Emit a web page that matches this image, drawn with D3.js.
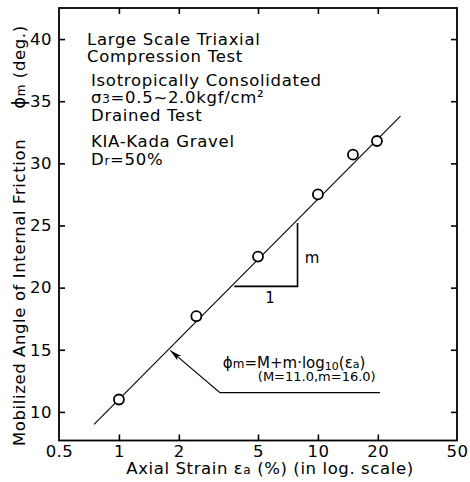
<!DOCTYPE html>
<html>
<head>
<meta charset="utf-8">
<script src="https://cdn.jsdelivr.net/npm/d3@7"></script>
<style>
  body { margin: 0; background: #fff; }
  text { font-family: "DejaVu Sans", sans-serif; fill: #000; }
</style>
</head>
<body>
<script>
// size of the page
var width = 470
var height = 482

// measured points (axial strain %, mobilized friction angle deg)
const strain = [1.0, 2.45, 5.0, 10.0, 15.0, 19.8]
const phi = [11.0, 17.7, 22.5, 27.5, 30.7, 31.8]

// fitted line phi = M + m*log10(ea), ends
const fitStrain = [0.75, 26]
const fitPhi = [9.0, 33.8]

// slope triangle and arrow of the annotation
const triStrain = [3.8, 7.9, 7.9]
const triPhi = [20.1, 20.1, 25.2]
const arrowStrain = [20.5, 3.22, 1.81]
const arrowPhi = [11.55, 11.55, 14.95]

// ticks
const xTicks = [0.5, 1, 2, 5, 10, 20, 50]
const xInner = [1, 2, 5, 10, 20]
const yTicks = [10, 15, 20, 25, 30, 35, 40]

// legend block text, [main, subscript, rest]
const infoLines = [
    ["Large Scale Triaxial", "", ""],
    ["Compression Test", "", ""],
    ["Isotropically Consolidated", "", ""],
    ["σ", "3", "=0.5~2.0kgf/cm²"],
    ["Drained Test", "", ""],
    ["KIA-Kada Gravel", "", ""],
    ["D", "r", "=50%"]
]
const infoY = [45, 62, 86, 103, 121, 147, 165]

const margin = { top: 8, right: 13, bottom: 41.5, left: 59 }
const innerWidth = width - margin.left - margin.right
const innerHeight = height - margin.top - margin.bottom

const svg = d3.select('body')
    .append('svg')
    .attr('width', width)
    .attr('height', height)

const xScale = d3.scaleLog()
    .domain([0.5, 50])
    .range([margin.left, margin.left + innerWidth])

const yScale = d3.scaleLinear()
    .domain([7.7, 42.5])
    .range([margin.top + innerHeight, margin.top])

//axes, all ticks pointing inward
const fmtX = d => d === 0.5 ? "0.5" : String(d)

const gx = svg.append('g')
    .attr('transform', 'translate(0,' + (margin.top + innerHeight) + ')')
    .call(d3.axisBottom(xScale).tickValues(xTicks).tickFormat(fmtX)
        .tickSizeInner(-6).tickSizeOuter(0).tickPadding(5))
gx.select('.domain').remove()
gx.selectAll('.tick line').attr('stroke-width', 1.6)
    .filter(d => d === 0.5 || d === 50).remove()
gx.selectAll('text').attr('font-size', 16.5).attr('font-family', '"DejaVu Sans"')
    .attr('letter-spacing', 0.5)

const gxTop = svg.append('g')
    .attr('transform', 'translate(0,' + margin.top + ')')
    .call(d3.axisTop(xScale).tickValues(xInner).tickFormat('')
        .tickSizeInner(-6).tickSizeOuter(0))
gxTop.select('.domain').remove()
gxTop.selectAll('.tick line').attr('stroke-width', 1.6)

const gy = svg.append('g')
    .attr('transform', 'translate(' + margin.left + ',0)')
    .call(d3.axisLeft(yScale).tickValues(yTicks)
        .tickSizeInner(-6).tickSizeOuter(0).tickPadding(7))
gy.select('.domain').remove()
gy.selectAll('.tick line').attr('stroke-width', 1.6)
gy.selectAll('text').attr('font-size', 16.5).attr('font-family', '"DejaVu Sans"')
    .attr('letter-spacing', 0.5)

const gyRight = svg.append('g')
    .attr('transform', 'translate(' + (margin.left + innerWidth) + ',0)')
    .call(d3.axisRight(yScale).tickValues(yTicks).tickFormat('')
        .tickSizeInner(-6).tickSizeOuter(0))
gyRight.select('.domain').remove()
gyRight.selectAll('.tick line').attr('stroke-width', 1.6)

//plot frame
svg.append('rect')
    .attr('x', margin.left)
    .attr('y', margin.top)
    .attr('width', innerWidth)
    .attr('height', innerHeight)
    .attr('fill', 'none')
    .attr('stroke', 'black')
    .attr('stroke-width', 1.8)

//fitted line
const line = d3.line()
    .x(d => xScale(d[0]))
    .y(d => yScale(d[1]))

svg.append('path')
    .datum(d3.zip(fitStrain, fitPhi))
    .attr('d', line)
    .attr('fill', 'none')
    .attr('stroke', 'black')
    .attr('stroke-width', 1.1)

//slope triangle
svg.append('path')
    .datum(d3.zip(triStrain, triPhi))
    .attr('d', line)
    .attr('fill', 'none')
    .attr('stroke', 'black')
    .attr('stroke-width', 1.6)

svg.append('text')
    .attr('x', xScale(8.6))
    .attr('y', yScale(22.0))
    .attr('font-size', 15)
    .text('m')
svg.append('text')
    .attr('x', xScale(5.74))
    .attr('y', yScale(18.75))
    .attr('text-anchor', 'middle')
    .attr('font-size', 15)
    .text('1')

//arrow pointing at the fitted line
svg.append('defs').append('marker')
    .attr('id', 'head')
    .attr('viewBox', '0 0 12 6')
    .attr('refX', 12).attr('refY', 3)
    .attr('markerWidth', 12).attr('markerHeight', 6)
    .attr('markerUnits', 'userSpaceOnUse')
    .attr('orient', 'auto')
    .append('path')
    .attr('d', 'M0,0 L12,3 L0,6 L3,3 Z')
    .attr('fill', 'black')

svg.append('path')
    .datum(d3.zip(arrowStrain, arrowPhi))
    .attr('d', line)
    .attr('fill', 'none')
    .attr('stroke', 'black')
    .attr('stroke-width', 1.2)
    .attr('marker-end', 'url(#head)')

//formula label
const f1 = svg.append('text')
    .attr('x', xScale(3.33))
    .attr('y', yScale(13.5))
    .attr('font-size', 15)
f1.append('tspan').text('ϕ')
f1.append('tspan').attr('font-size', 12).text('m')
f1.append('tspan').text('=M+m·log')
f1.append('tspan').attr('font-size', 11).attr('dy', 2).text('10')
f1.append('tspan').attr('dy', -2).text('(ε')
f1.append('tspan').attr('font-size', 11).text('a')
f1.append('tspan').text(')')

svg.append('text')
    .attr('x', xScale(4.99))
    .attr('y', yScale(12.45))
    .attr('font-size', 13)
    .text('(M=11.0,m=16.0)')

//data points
svg.append('g').selectAll('circle')
    .data(d3.zip(strain, phi))
    .enter()
    .append('circle')
    .attr('cx', d => xScale(d[0]))
    .attr('cy', d => yScale(d[1]))
    .attr('r', 5)
    .attr('fill', 'white')
    .attr('stroke', 'black')
    .attr('stroke-width', 1.8)

//legend block
const info = svg.append('g').selectAll('text')
    .data(infoLines)
    .enter()
    .append('text')
    .attr('x', (d, i) => i < 2 ? 87 : 91)
    .attr('y', (d, i) => infoY[i])
    .attr('font-size', 16.5)
    .attr('letter-spacing', 0.7)
info.append('tspan').text(d => d[0])
info.append('tspan').attr('font-size', 12).text(d => d[1])
info.append('tspan').text(d => d[2])

//axis titles
const xt = svg.append('text')
    .attr('x', width / 2 + 35)
    .attr('y', 474)
    .attr('text-anchor', 'middle')
    .attr('font-size', 16.5)
    .attr('letter-spacing', 0.6)
xt.append('tspan').text('Axial Strain  ε')
xt.append('tspan').attr('font-size', 12).text('a')
xt.append('tspan').text('  (%) (in log. scale)')

const yt = svg.append('text')
    .attr('transform', 'translate(25,446) rotate(-90)')
    .attr('font-size', 16.5)
    .attr('letter-spacing', 0.6)
yt.append('tspan').text('Mobilized Angle of Internal Friction')
yt.append('tspan').attr('dx', 30).attr('font-size', 18).text('ϕ')
yt.append('tspan').attr('font-size', 12).text('m')
yt.append('tspan').text(' (deg.)')
</script>
</body>
</html>
